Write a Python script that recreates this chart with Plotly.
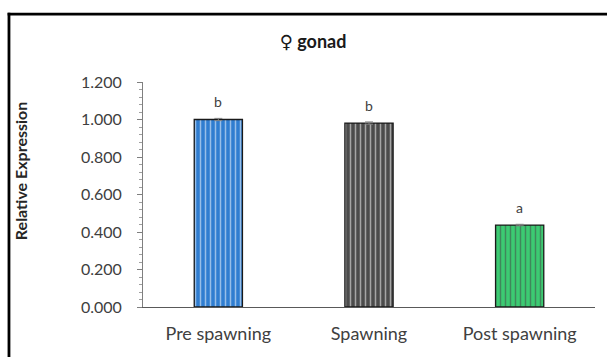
import plotly.graph_objects as go

categories = ["Pre spawning", "Spawning", "Post spawning"]
values = [1.000, 0.981, 0.437]
errors = [0.006, 0.006, 0.004]
letters = ["b", "b", "a"]
bar_colors = ["#2f7dd0", "#4b4b4b", "#3ccb72"]
pattern_colors = ["#79b6ef", "#8c8c8c", "#8be6ab"]
tick_vals = [0, 0.2, 0.4, 0.6, 0.8, 1.0, 1.2]
tick_text = ["0.000", "0.200", "0.400", "0.600", "0.800", "1.000", "1.200"]

font_family = "Lato, 'Open Sans', sans-serif"

fig = go.Figure()
fig.add_trace(go.Bar(
    x=categories, y=values,
    width=0.32,
    marker=dict(color=bar_colors,
                line=dict(color="#1a1a1a", width=1.3),
                pattern=dict(shape="|", fgcolor=pattern_colors, size=5, solidity=0.3)),
    error_y=dict(type="data", array=errors, color="#808080", thickness=1, width=4),
    showlegend=False,
))

for c, v, l in zip(categories, values, letters):
    fig.add_annotation(x=c, y=v, text=l, showarrow=False, yanchor="middle",
                       yshift=18, font=dict(family=font_family, size=14, color="#404040"))

fig.add_annotation(xref="paper", yref="paper", x=-0.272, y=0.604, text="<b>Relative Expression</b>",
                   textangle=-90, showarrow=False, xanchor="center", yanchor="middle",
                   font=dict(family=font_family, size=16, color="#262626"))

# outer frame: top and left edges only visible in the crop
fig.add_shape(type="line", xref="paper", yref="paper",
              x0=-0.2995, x1=1.2, y0=1.302, y1=1.302,
              line=dict(color="black", width=2.8), layer="above")
fig.add_shape(type="line", xref="paper", yref="paper",
              x0=-0.2965, x1=-0.2965, y0=1.308, y1=-0.4,
              line=dict(color="black", width=2.8), layer="above")

fig.update_layout(
    width=607, height=357,
    margin=dict(l=143, r=12, t=82, b=50),
    plot_bgcolor="white", paper_bgcolor="white",
    font=dict(family=font_family, color="#404040", size=16),
    title=dict(text="<b><span style=\"font-family:'DejaVu Sans'\">♀</span> gonad</b>",
               x=0.5157, xref="container", xanchor="center",
               y=0.8824, yref="container", yanchor="middle",
               font=dict(family=font_family, size=18, color="#1a1a1a")),
    xaxis=dict(range=[-0.5, 2.5], showline=True, linecolor="#595959", linewidth=1.2,
               ticks="", tickfont=dict(size=18, color="#404040"), ticklabelstandoff=10,
               automargin=False),
    yaxis=dict(range=[0, 1.2], tickvals=tick_vals, ticktext=tick_text,
               showline=True, linecolor="#7f7f7f", linewidth=1, showgrid=False,
               zeroline=False, ticks="outside", ticklen=5, tickcolor="#7f7f7f",
               ticklabelstandoff=12, automargin=False,
               minor=dict(ticks="outside", ticklen=3, tickcolor="#9f9f9f", dtick=0.04),
               tickfont=dict(size=16, color="#404040")),
)

fig.write_html("out.html",
               config={"displayModeBar": False},
               post_script="document.body.style.margin='0';document.body.style.overflow='hidden';")
